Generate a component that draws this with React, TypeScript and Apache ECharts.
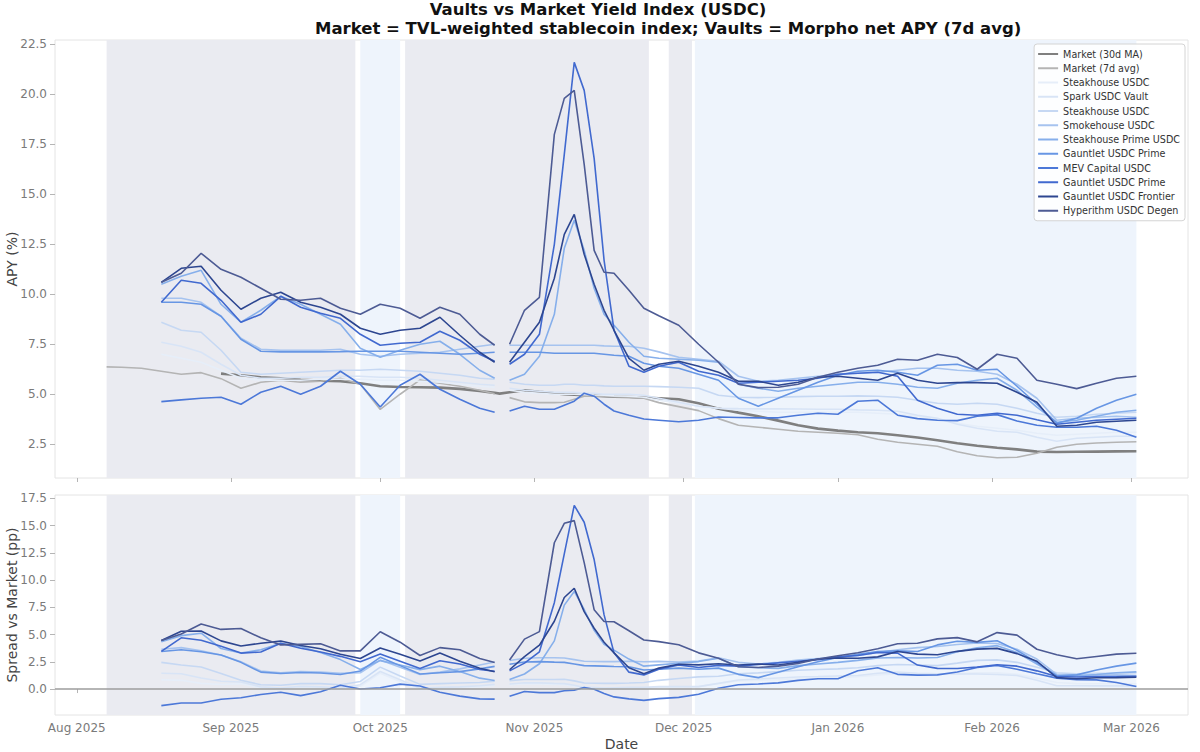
import { useEffect, useRef } from "react";
import * as echarts from "echarts";

const FONT = '"DejaVu Sans", "Noto Sans", sans-serif';
const N = null;

// Sample dates (every ~4 days, 2 days around the November spike). 2025-10-25 is a data gap.
const DATES = [
  "2025-08-07", "2025-08-10", "2025-08-14",
  "2025-08-18", "2025-08-22", "2025-08-26", "2025-08-30", "2025-09-03", "2025-09-07", "2025-09-11", "2025-09-15", "2025-09-19",
  "2025-09-23", "2025-09-27", "2025-10-01", "2025-10-05", "2025-10-09", "2025-10-13", "2025-10-17", "2025-10-21", "2025-10-24",
  "2025-10-25",
  "2025-10-27", "2025-10-30", "2025-11-02", "2025-11-05", "2025-11-07", "2025-11-09", "2025-11-11", "2025-11-13", "2025-11-15",
  "2025-11-17", "2025-11-20", "2025-11-23", "2025-11-26", "2025-11-30", "2025-12-04", "2025-12-08", "2025-12-12", "2025-12-16",
  "2025-12-20", "2025-12-24", "2025-12-28", "2026-01-01", "2026-01-05", "2026-01-09", "2026-01-13", "2026-01-17", "2026-01-21",
  "2026-01-25", "2026-01-29", "2026-02-02", "2026-02-06", "2026-02-10", "2026-02-14", "2026-02-18", "2026-02-22", "2026-02-26",
  "2026-03-02",
];

const MARKET_30D = [
  N, N, N,
  N, N, N, 6.03, 5.95, 5.85, 5.8, 5.72, 5.68, 5.65, 5.55, 5.4, 5.36, 5.35, 5.33, 5.27, 5.16, 5.07,
  5.03,
  5.1, 5.2, 5.12, 5.05, 5.0, 4.98, 4.95, 4.93, 4.9, 4.88, 4.86, 4.83, 4.8, 4.75, 4.55, 4.28, 4.08, 3.9,
  3.68, 3.45, 3.28, 3.18, 3.1, 3.05, 2.95, 2.84, 2.7, 2.55, 2.42, 2.32, 2.24, 2.13, 2.11, 2.12, 2.13, 2.14, 2.15,
];

const MARKET_7D = [
  6.37, 6.35, 6.3,
  6.15, 6.0, 6.08, 5.78, 5.3, 5.6, 5.7, 5.6, 5.65, 5.8, 5.5, 4.24, 5.0, 5.72, 5.55, 5.4, 5.2, 5.02,
  N,
  4.83, 4.62, 4.58, 4.58, 4.6, 4.75, 4.9, 4.92, 4.9, 4.88, 4.85, 4.8, 4.58, 4.38, 4.18, 3.78, 3.45, 3.35,
  3.25, 3.15, 3.1, 3.05, 2.97, 2.75, 2.6, 2.5, 2.4, 2.12, 1.92, 1.82, 1.85, 2.05, 2.35, 2.5, 2.56, 2.6, 2.62,
];

// Morpho vaults, net APY (7d avg), %
const STEAKHOUSE_USDC_A = [
  N, N, N,
  7.0, 6.8, 6.6, 6.2, 5.8, 5.7, 5.7, 5.7, 5.75, 5.75, 5.75, 5.7, 5.7, 5.65, 5.6, 5.5, 5.4, 5.35,
  N,
  5.2, 5.1, 5.05, 5.0, 5.0, 5.0, 4.98, 4.96, 4.95, 4.92, 4.9, 4.85, 4.7, 4.55, 4.4, 4.3, 4.2, 4.15,
  4.1, 4.1, 4.1, 4.1, 4.1, 4.05, 4.0, 3.9, 3.75, 3.55, 3.4, 3.3, 3.2, 3.05, 2.95, 3.0, 3.05, 3.1, 3.1,
];
const SPARK_USDC = [
  N, N, N,
  7.6, 7.4, 7.1, 6.5, 5.95, 5.8, 5.8, 5.85, 5.85, 5.9, 5.9, 5.85, 5.85, 5.8, 5.7, 5.6, 5.5, 5.45,
  N,
  5.3, 5.2, 5.15, 5.1, 5.1, 5.1, 5.05, 5.05, 5.0, 5.0, 5.0, 4.95, 4.8, 4.6, 4.4, 4.3, 4.28, 4.27,
  4.27, 4.26, 4.25, 4.25, 4.22, 4.2, 4.15, 3.95, 3.8, 3.5, 3.3, 3.15, 3.1, 2.85, 2.65, 2.8, 2.85, 2.9, 2.9,
];
const STEAKHOUSE_USDC_B = [
  N, N, N,
  8.6, 8.2, 8.1, 7.2, 6.1, 6.0, 6.05, 6.1, 6.15, 6.2, 6.2, 6.25, 6.2, 6.15, 6.05, 5.95, 5.8, 5.75,
  N,
  5.6, 5.5, 5.45, 5.45, 5.5, 5.5, 5.45, 5.45, 5.42, 5.4, 5.4, 5.4, 5.38, 5.35, 5.3, 4.95, 4.85, 4.83,
  4.85, 4.88, 4.9, 4.9, 4.92, 4.9, 4.85, 4.7, 4.55, 4.5, 4.55, 4.5, 4.3, 4.05, 3.85, 3.9, 4.0, 4.05, 4.1,
];
const SMOKEHOUSE_USDC = [
  N, N, N,
  9.8, 9.8, 9.6, 8.9, 7.8, 7.25, 7.2, 7.2, 7.2, 7.25, 7.0, 6.9, 7.0, 7.05, 7.1, 7.25, 7.4, 7.5,
  N,
  7.45, 7.45, 7.45, 7.45, 7.45, 7.45, 7.45, 7.45, 7.42, 7.4, 7.4, 7.3, 7.12, 6.85, 6.75, 6.65, 5.9, 5.65,
  5.7, 5.8, 5.9, 6.0, 6.05, 6.1, 6.2, 6.3, 6.3, 6.2, 6.15, 6.0, 5.5, 4.8, 3.7, 3.8, 3.85, 3.9, 3.85,
];
const STEAKHOUSE_PRIME_USDC = [
  N, N, N,
  10.5, 10.9, 11.2, 9.5, 8.6, 9.2, 9.9, 9.5, 9.0, 8.5, 7.3, 6.85, 7.2, 7.5, 7.65, 7.0, 6.2, 5.8,
  N,
  5.7, 6.0, 6.9, 9.0, 12.3, 13.7, 12.2, 10.3, 9.0, 8.45, 7.6, 6.9, 6.8, 6.75, 6.7, 6.6, 5.5, 5.3,
  5.15, 5.3, 5.4, 5.5, 5.6, 5.6, 5.5, 5.35, 5.3, 5.55, 5.7, 5.8, 5.2, 4.35, 3.6, 3.7, 3.9, 4.1, 4.2,
];
const GAUNTLET_USDC_PRIME_A = [
  N, N, N,
  9.6, 9.6, 9.5, 8.9, 7.75, 7.15, 7.12, 7.12, 7.12, 7.13, 7.15, 7.15, 7.15, 7.1, 7.05, 7.0, 7.05, 7.1,
  N,
  7.1, 7.1, 7.1, 7.05, 7.05, 7.05, 7.05, 7.05, 7.0, 6.95, 6.9, 6.55, 6.4, 6.3, 6.0, 5.7, 4.8, 4.4,
  4.8, 5.2, 5.6, 5.95, 6.15, 6.2, 6.1, 5.95, 6.45, 6.5, 6.2, 6.25, 5.4, 4.5, 3.55, 3.8, 4.3, 4.7, 5.0,
];
const MEV_CAPITAL_USDC = [
  N, N, N,
  4.63, 4.72, 4.8, 4.85, 4.5, 5.1, 5.4, 5.0, 5.4, 6.15, 5.5, 4.36, 5.45, 6.0, 5.25, 4.75, 4.3, 4.1,
  N,
  4.16, 4.4, 4.25, 4.25, 4.45, 4.65, 5.05, 4.9, 4.5, 4.16, 3.95, 3.76, 3.7, 3.62, 3.7, 3.86, 3.84, 3.82,
  3.82, 3.95, 4.05, 4.0, 4.65, 4.7, 3.95, 3.78, 3.7, 3.68, 3.9, 3.98, 3.66, 3.45, 3.35, 3.35, 3.4, 3.2, 2.85,
];
const GAUNTLET_USDC_PRIME_B = [
  N, N, N,
  9.6, 10.7, 10.55, 9.7, 8.6, 9.0, 9.9, 9.35, 9.05, 8.8, 8.0, 7.45, 7.55, 7.6, 8.15, 7.7, 7.0, 6.65,
  N,
  6.5, 7.0, 8.0, 12.5, 17.0, 21.6, 20.2, 16.8, 11.7, 8.2, 6.4, 6.1, 6.4, 6.6, 6.15, 5.95, 5.55, 5.6,
  5.65, 5.7, 5.8, 6.0, 6.05, 6.1, 5.9, 4.7, 4.3, 4.0, 3.95, 4.05, 3.95, 3.72, 3.5, 3.6, 3.7, 3.75, 3.8,
];
const GAUNTLET_USDC_FRONTIER = [
  N, N, N,
  10.6, 11.3, 11.4, 10.2, 9.25, 9.8, 10.1, 9.6, 9.35, 9.0, 8.3, 8.0, 8.2, 8.3, 8.85, 7.95, 7.1, 6.6,
  N,
  6.6, 7.6, 8.6, 10.8, 13.0, 14.0, 12.0, 10.5, 9.2, 8.2, 6.8, 6.2, 6.5, 6.65, 6.4, 6.1, 5.65, 5.65,
  5.45, 5.6, 5.85, 5.9, 5.8, 5.7, 6.05, 5.7, 5.55, 5.58, 5.58, 5.55, 5.1, 4.6, 3.4, 3.45, 3.6, 3.65, 3.7,
];
const HYPERITHM_USDC_DEGEN = [
  N, N, N,
  10.6, 11.05, 12.05, 11.25, 10.85, 10.3, 9.75, 9.7, 9.8, 9.3, 9.0, 9.5, 9.3, 8.8, 9.35, 9.0, 8.0, 7.45,
  N,
  7.5, 9.2, 9.85, 18.0, 19.8, 20.2, 16.5, 12.2, 11.1, 11.05, 10.2, 9.3, 8.93, 8.45, 7.5, 6.6, 5.5, 5.33,
  5.35, 5.5, 5.85, 6.1, 6.3, 6.45, 6.75, 6.7, 7.0, 6.84, 6.25, 7.0, 6.8, 5.7, 5.5, 5.28, 5.55, 5.8, 5.9,
];

// Background regime bands
const REGIMES = [
  { from: "2025-08-07", to: "2025-09-26", kind: "grey" },
  { from: "2025-09-27", to: "2025-10-05", kind: "blue" },
  { from: "2025-10-06", to: "2025-11-24", kind: "grey" },
  { from: "2025-11-28", to: "2025-12-02 16:00", kind: "grey" },
  { from: "2025-12-03 06:00", to: "2026-03-02", kind: "blue" },
];

const MONTH_TICKS = ["2025-08-01", "2025-09-01", "2025-10-01", "2025-11-01", "2025-12-01", "2026-01-01", "2026-02-01", "2026-03-01"];
const APY_TICKS = [2.5, 5, 7.5, 10, 12.5, 15, 17.5, 20, 22.5];
const SPREAD_TICKS = [0, 2.5, 5, 7.5, 10, 12.5, 15, 17.5];
const MONTHS = ["Jan", "Feb", "Mar", "Apr", "May", "Jun", "Jul", "Aug", "Sep", "Oct", "Nov", "Dec"];

const VAULTS = [
  { name: "Steakhouse USDC", values: STEAKHOUSE_USDC_A, color: "#e6eef9" },
  { name: "Spark USDC Vault", values: SPARK_USDC, color: "#d8e4f6" },
  { name: "Steakhouse USDC\u200b", values: STEAKHOUSE_USDC_B, color: "#c6d8f3" },
  { name: "Smokehouse USDC", values: SMOKEHOUSE_USDC, color: "#a6c3ef" },
  { name: "Steakhouse Prime USDC", values: STEAKHOUSE_PRIME_USDC, color: "#86afeb" },
  { name: "Gauntlet USDC Prime", values: GAUNTLET_USDC_PRIME_A, color: "#6796e4" },
  { name: "MEV Capital USDC", values: MEV_CAPITAL_USDC, color: "#4c78d8" },
  { name: "Gauntlet USDC Prime\u200b", values: GAUNTLET_USDC_PRIME_B, color: "#4169cf" },
  { name: "Gauntlet USDC Frontier", values: GAUNTLET_USDC_FRONTIER, color: "#2d4690" },
  { name: "Hyperithm USDC Degen", values: HYPERITHM_USDC_DEGEN, color: "#4d5b94" },
];

const REGIME_COLOR: Record<string, string> = { grey: "#eaebf1", blue: "#eef4fc" };

const TITLE = "Vaults vs Market Yield Index (USDC)";
const SUBTITLE = "Market = TVL-weighted stablecoin index; Vaults = Morpho net APY (7d avg)";

const X_MIN = "2025-07-27 15:00";
const X_MAX = "2026-03-12 09:00";

// "YYYY-MM-DD[ HH:mm]" -> UTC ms
const ts = (s: string) => {
  const [d, t = "00:00"] = s.split(" ");
  const [y, m, dd] = d.split("-").map(Number);
  const [hh, mm] = t.split(":").map(Number);
  return Date.UTC(y, m - 1, dd, hh, mm);
};

const pairs = (vals: (number | null)[]) => DATES.map((d, i) => [ts(d), vals[i] == null ? "-" : vals[i]]);
const spread = (vals: (number | null)[]) =>
  vals.map((v, i) => (v == null || MARKET_7D[i] == null ? null : +(v - (MARKET_7D[i] as number)).toFixed(3)));

const fmtMonth = (v: number) => {
  const d = new Date(v);
  return `${MONTHS[d.getUTCMonth()]} ${d.getUTCFullYear()}`;
};

const lineSeries = (name: string, vals: (number | null)[], color: string, width: number, g: number) => ({
  type: "line",
  name,
  xAxisIndex: g,
  yAxisIndex: g,
  data: pairs(vals),
  showSymbol: false,
  symbol: "none",
  connectNulls: false,
  silent: true,
  z: 3,
  lineStyle: { color, width },
  itemStyle: { color },
  emphasis: { disabled: true },
});

const bandSeries = (g: number) => ({
  type: "line",
  name: `bands-${g}`,
  xAxisIndex: g,
  yAxisIndex: g,
  data: [[ts(DATES[3]), g === 0 ? 5 : 0]],
  showSymbol: false,
  symbol: "none",
  lineStyle: { opacity: 0 },
  silent: true,
  z: 1,
  markArea: {
    silent: true,
    data: REGIMES.map((r) => [{ xAxis: ts(r.from), itemStyle: { color: REGIME_COLOR[r.kind] } }, { xAxis: ts(r.to) }]),
  },
});

const axisLabelStyle = { color: "#7a7a7a", fontSize: 12, fontFamily: FONT };
const axisNameStyle = { color: "#444", fontSize: 14, fontFamily: FONT };

export default function App() {
  const ref = useRef<HTMLDivElement>(null);

  useEffect(() => {
    if (!ref.current) return;
    const chart = echarts.init(ref.current, undefined, { renderer: "svg" });
    const monthTicks = MONTH_TICKS.map(ts);

    const xAxisBase = (g: number) => ({
      type: "value",
      gridIndex: g,
      min: ts(X_MIN),
      max: ts(X_MAX),
      axisLine: { show: false },
      axisTick: { show: true, length: 4, lineStyle: { color: "#b5b5b5" }, customValues: monthTicks },
      axisLabel: {
        show: g === 1,
        customValues: monthTicks,
        formatter: (v: number) => fmtMonth(v),
        margin: 7,
        ...axisLabelStyle,
      },
      splitLine: { show: false },
      ...(g === 1
        ? { name: "Date", nameLocation: "middle", nameGap: 22, nameMoveOverlap: false, nameTextStyle: axisNameStyle }
        : {}),
    });

    const yAxisBase = (g: number, min: number, max: number, ticks: number[], name: string) => ({
      type: "value",
      gridIndex: g,
      min,
      max,
      axisLine: { show: false },
      axisTick: { show: true, length: 5, lineStyle: { color: "#b5b5b5" }, customValues: ticks },
      axisLabel: { customValues: ticks, formatter: (v: number) => v.toFixed(1), margin: 8, ...axisLabelStyle },
      splitLine: { show: false },
      name,
      nameLocation: "middle",
      nameGap: 36.5,
      nameMoveOverlap: false,
      nameTextStyle: axisNameStyle,
    });

    const series: any[] = [bandSeries(0), bandSeries(1)];
    series.push(lineSeries("Market (30d MA)", MARKET_30D, "#7f7f7f", 2.6, 0));
    series.push(lineSeries("Market (7d avg)", MARKET_7D, "#b4b4b4", 1.6, 0));
    VAULTS.forEach((v) => series.push(lineSeries(v.name, v.values, v.color, 1.6, 0)));
    series.push({
      type: "line",
      name: "zero",
      xAxisIndex: 1,
      yAxisIndex: 1,
      data: [[ts(DATES[3]), 0]],
      showSymbol: false,
      symbol: "none",
      lineStyle: { opacity: 0 },
      silent: true,
      z: 2,
      markLine: {
        silent: true,
        symbol: ["none", "none"],
        label: { show: false },
        lineStyle: { color: "#9c9c9c", width: 1.5, type: "solid" },
        data: [{ yAxis: 0 }],
      },
    });
    VAULTS.forEach((v) => series.push(lineSeries(v.name, spread(v.values), v.color, 1.6, 1)));

    const gridBase = {
      left: 55,
      width: 1133,
      show: true,
      borderColor: "#e4e4e4",
      borderWidth: 1,
      backgroundColor: "transparent",
      containLabel: false,
      outerBoundsMode: "none",
    };

    chart.setOption({
      animation: false,
      backgroundColor: "#ffffff",
      textStyle: { fontFamily: FONT },
      graphic: [
        {
          type: "text",
          x: 598,
          y: 9.5,
          style: {
            text: TITLE,
            font: `bold 16.5px ${FONT}`,
            fill: "#111",
            align: "center",
            verticalAlign: "middle",
          },
        },
        {
          type: "text",
          x: 315,
          y: 28.5,
          style: {
            text: SUBTITLE,
            font: `bold 16.5px ${FONT}`,
            fill: "#111",
            align: "left",
            verticalAlign: "middle",
          },
        },
      ],
      legend: {
        data: ["Market (30d MA)", "Market (7d avg)", ...VAULTS.map((v) => v.name)],
        orient: "vertical",
        right: 15,
        top: 44,
        itemWidth: 20,
        itemHeight: 10,
        itemGap: 4.25,
        padding: [5, 5, 5, 3],
        backgroundColor: "rgba(255,255,255,0.85)",
        borderColor: "#d4d4d4",
        borderWidth: 1,
        borderRadius: 3,
        selectedMode: false,
        itemStyle: { opacity: 0 },
        textStyle: { fontSize: 9.6, lineHeight: 10, color: "#333", fontFamily: FONT },
      },
      grid: [
        { ...gridBase, top: 40, height: 438 },
        { ...gridBase, top: 495, height: 220 },
      ],
      xAxis: [xAxisBase(0), xAxisBase(1)],
      yAxis: [
        yAxisBase(0, 0.81, 22.72, APY_TICKS, "APY (%)"),
        yAxisBase(1, -2.38, 17.8, SPREAD_TICKS, "Spread vs Market (pp)"),
      ],
      series,
    });

    return () => chart.dispose();
  }, []);

  return <div ref={ref} style={{ position: "fixed", left: 0, top: 0, width: 1200, height: 752 }} />;
}
